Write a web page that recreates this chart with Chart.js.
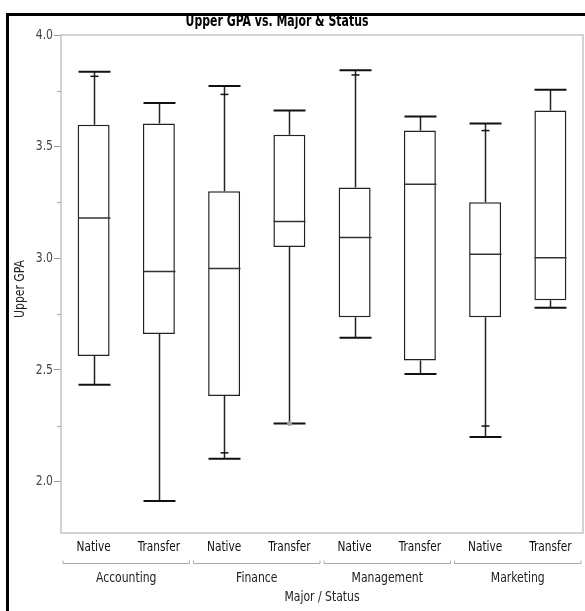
<!DOCTYPE html>
<html lang="en">
<head>
<meta charset="UTF-8" />
<title>Upper GPA vs. Major & Status</title>
<script src="https://cdn.jsdelivr.net/npm/chart.js"></script>
<style>
  html, body { margin: 0; padding: 0; background: #fff; }
  #wrap { width: 585px; height: 611px; }
</style>
</head>
<body>
<div id="wrap"><canvas id="gpaChart" width="585" height="611"></canvas></div>
<script>
  // groups and sub-groups
  const majors = ['Accounting', 'Finance', 'Management', 'Marketing'];
  const statuses = ['Native', 'Transfer'];

  // quantile box values, one per major/status (Acc N, Acc T, Fin N, Fin T, ...)
  const q1Values     = [2.563, 2.661, 2.384, 3.051, 2.736, 2.542, 2.736, 2.812];
  const medianValues = [3.180, 2.941, 2.954, 3.165, 3.093, 3.332, 3.018, 3.002];
  const q3Values     = [3.598, 3.604, 3.300, 3.553, 3.317, 3.572, 3.251, 3.662];
  const whiskerHigh  = [3.835, 3.695, 3.772, 3.662, 3.842, 3.635, 3.604, 3.755];
  const whiskerLow   = [2.434, 1.913, 2.102, 2.260, 2.644, 2.482, 2.200, 2.779];
  // short marks inside the whiskers
  const upperMarks   = [3.815, null, 3.734, null, 3.821, null, 3.572, null];
  const lowerMarks   = [null, null, 2.129, null, null, null, 2.249, null];
  // single points
  const outliers     = [null, null, null, 2.260, null, null, null, null];

  const yMajorTicks = [2.0, 2.5, 3.0, 3.5, 4.0];
  const yMinorTicks = [2.25, 2.75, 3.25, 3.75];
  const yMin = 1.77;
  const yMax = 4.0;

  const labels = [];
  majors.forEach(() => statuses.forEach(s => labels.push(s)));

  const fontFamily = '"DejaVu Sans Condensed", "DejaVu Sans", sans-serif';

  // squeezed text, the original uses a narrow UI font
  function drawText(ctx, text, x, y, font, sx, color, align) {
    ctx.save();
    ctx.font = font;
    ctx.fillStyle = color;
    ctx.textAlign = align || 'center';
    ctx.textBaseline = 'middle';
    ctx.translate(x, y);
    ctx.scale(sx, 1);
    ctx.fillText(text, 0, 0);
    ctx.restore();
  }

  const boxExtras = {
    id: 'boxExtras',
    beforeDraw(chart) {
      const ctx = chart.ctx;
      ctx.save();
      ctx.fillStyle = '#fff';
      ctx.fillRect(0, 0, chart.width, chart.height);
      // outer frame
      ctx.strokeStyle = '#000';
      ctx.lineWidth = 3;
      ctx.strokeRect(7.5, 14.5, chart.width + 20, chart.height + 20);
      ctx.restore();
    },
    afterDatasetsDraw(chart) {
      const ctx = chart.ctx;
      const y = chart.scales.y;
      const meta = chart.getDatasetMeta(0);
      ctx.save();
      meta.data.forEach((bar, i) => {
        const cx = Math.round(bar.x) + 0.5;
        const half = bar.width / 2;
        const pTop = y.getPixelForValue(q3Values[i]);
        const pBot = y.getPixelForValue(q1Values[i]);
        const pHi = y.getPixelForValue(whiskerHigh[i]);
        const pLo = y.getPixelForValue(whiskerLow[i]);

        // whiskers
        ctx.strokeStyle = '#222';
        ctx.lineWidth = 1.5;
        ctx.beginPath();
        ctx.moveTo(cx, pTop); ctx.lineTo(cx, pHi);
        ctx.moveTo(cx, pBot); ctx.lineTo(cx, pLo);
        ctx.stroke();

        // caps
        ctx.lineWidth = 2;
        ctx.strokeStyle = '#111';
        ctx.beginPath();
        ctx.moveTo(cx - half, pHi); ctx.lineTo(cx + half, pHi);
        ctx.moveTo(cx - half, pLo); ctx.lineTo(cx + half, pLo);
        ctx.stroke();

        // short marks
        ctx.lineWidth = 1.5;
        [upperMarks[i], lowerMarks[i]].forEach(v => {
          if (v == null) return;
          const p = y.getPixelForValue(v);
          ctx.beginPath();
          ctx.moveTo(cx - 4, p); ctx.lineTo(cx + 4, p);
          ctx.stroke();
        });

        // median
        const pMed = y.getPixelForValue(medianValues[i]);
        ctx.strokeStyle = '#333';
        ctx.beginPath();
        ctx.moveTo(cx - half, pMed); ctx.lineTo(cx + half, pMed);
        ctx.stroke();

        if (outliers[i] != null) {
          ctx.fillStyle = '#a0a0a0';
          ctx.beginPath();
          ctx.arc(cx, y.getPixelForValue(outliers[i]), 2.5, 0, Math.PI * 2);
          ctx.fill();
        }
      });
      ctx.restore();
    },
    afterDraw(chart) {
      const ctx = chart.ctx;
      const a = chart.chartArea;
      const x = chart.scales.x;
      const y = chart.scales.y;
      ctx.save();

      // plot frame
      ctx.strokeStyle = '#c4c4c4';
      ctx.lineWidth = 1.5;
      ctx.strokeRect(a.left, a.top, a.right - a.left, a.bottom - a.top);

      // minor ticks
      ctx.strokeStyle = '#aaa';
      ctx.lineWidth = 1;
      yMinorTicks.forEach(v => {
        const p = Math.round(y.getPixelForValue(v)) + 0.5;
        ctx.beginPath();
        ctx.moveTo(a.left - 4, p); ctx.lineTo(a.left, p);
        ctx.stroke();
      });

      // y tick labels
      yMajorTicks.forEach(v => {
        drawText(ctx, v.toFixed(1), a.left - 8, y.getPixelForValue(v), '14px ' + fontFamily, 0.86, '#444', 'right');
      });

      // x tick labels
      labels.forEach((l, i) => {
        drawText(ctx, l, x.getPixelForValue(i), 547, '14px ' + fontFamily, 0.84, '#111');
      });

      // title
      drawText(ctx, 'Upper GPA vs. Major & Status', 277, 22, 'bold 15px ' + fontFamily, 0.81, '#000');

      // y title
      ctx.save();
      ctx.translate(20, 289);
      ctx.rotate(-Math.PI / 2);
      drawText(ctx, 'Upper GPA', 0, 0, '14px ' + fontFamily, 0.86, '#222');
      ctx.restore();

      // group brackets and labels
      const step = x.getPixelForValue(1) - x.getPixelForValue(0);
      majors.forEach((m, g) => {
        const left = x.getPixelForValue(g * 2) - step / 2 + 2;
        const right = x.getPixelForValue(g * 2 + 1) + step / 2 - 2;
        const by = 563.5;
        ctx.strokeStyle = '#aaa';
        ctx.lineWidth = 1;
        ctx.beginPath();
        ctx.moveTo(left, by - 3); ctx.lineTo(left, by);
        ctx.lineTo(right, by); ctx.lineTo(right, by - 3);
        ctx.stroke();
        drawText(ctx, m, (left + right) / 2, 578, '14px ' + fontFamily, 0.86, '#222');
      });

      drawText(ctx, 'Major / Status', (a.left + a.right) / 2, 597, '14px ' + fontFamily, 0.86, '#222');
      ctx.restore();
    }
  };

  const ctx = document.getElementById('gpaChart').getContext('2d');
  new Chart(ctx, {
    type: 'bar',
    data: {
      labels: labels,
      datasets: [{
        label: 'Upper GPA',
        data: q1Values.map((q1, i) => [q1, q3Values[i]]),
        backgroundColor: '#ffffff',
        borderColor: '#222',
        borderWidth: 1.5,
        borderSkipped: false,
        categoryPercentage: 1.0,
        barPercentage: 0.49
      }]
    },
    options: {
      responsive: false,
      animation: false,
      devicePixelRatio: 1,
      layout: { padding: { left: 0, top: 35, right: 2, bottom: 0 } },
      plugins: {
        legend: { display: false },
        tooltip: { enabled: false },
        title: { display: false }
      },
      scales: {
        x: {
          grid: { display: false, drawTicks: false },
          border: { display: false },
          ticks: { display: false },
          afterFit(scale) { scale.height = 78; }
        },
        y: {
          min: yMin,
          max: yMax,
          grid: { display: true, drawOnChartArea: false, drawTicks: true, tickLength: 7, color: '#999' },
          border: { display: false },
          afterBuildTicks(scale) { scale.ticks = yMajorTicks.map(v => ({ value: v })); },
          ticks: { display: false },
          afterFit(scale) { scale.width = 61; }
        }
      }
    },
    plugins: [boxExtras]
  });
</script>
</body>
</html>
